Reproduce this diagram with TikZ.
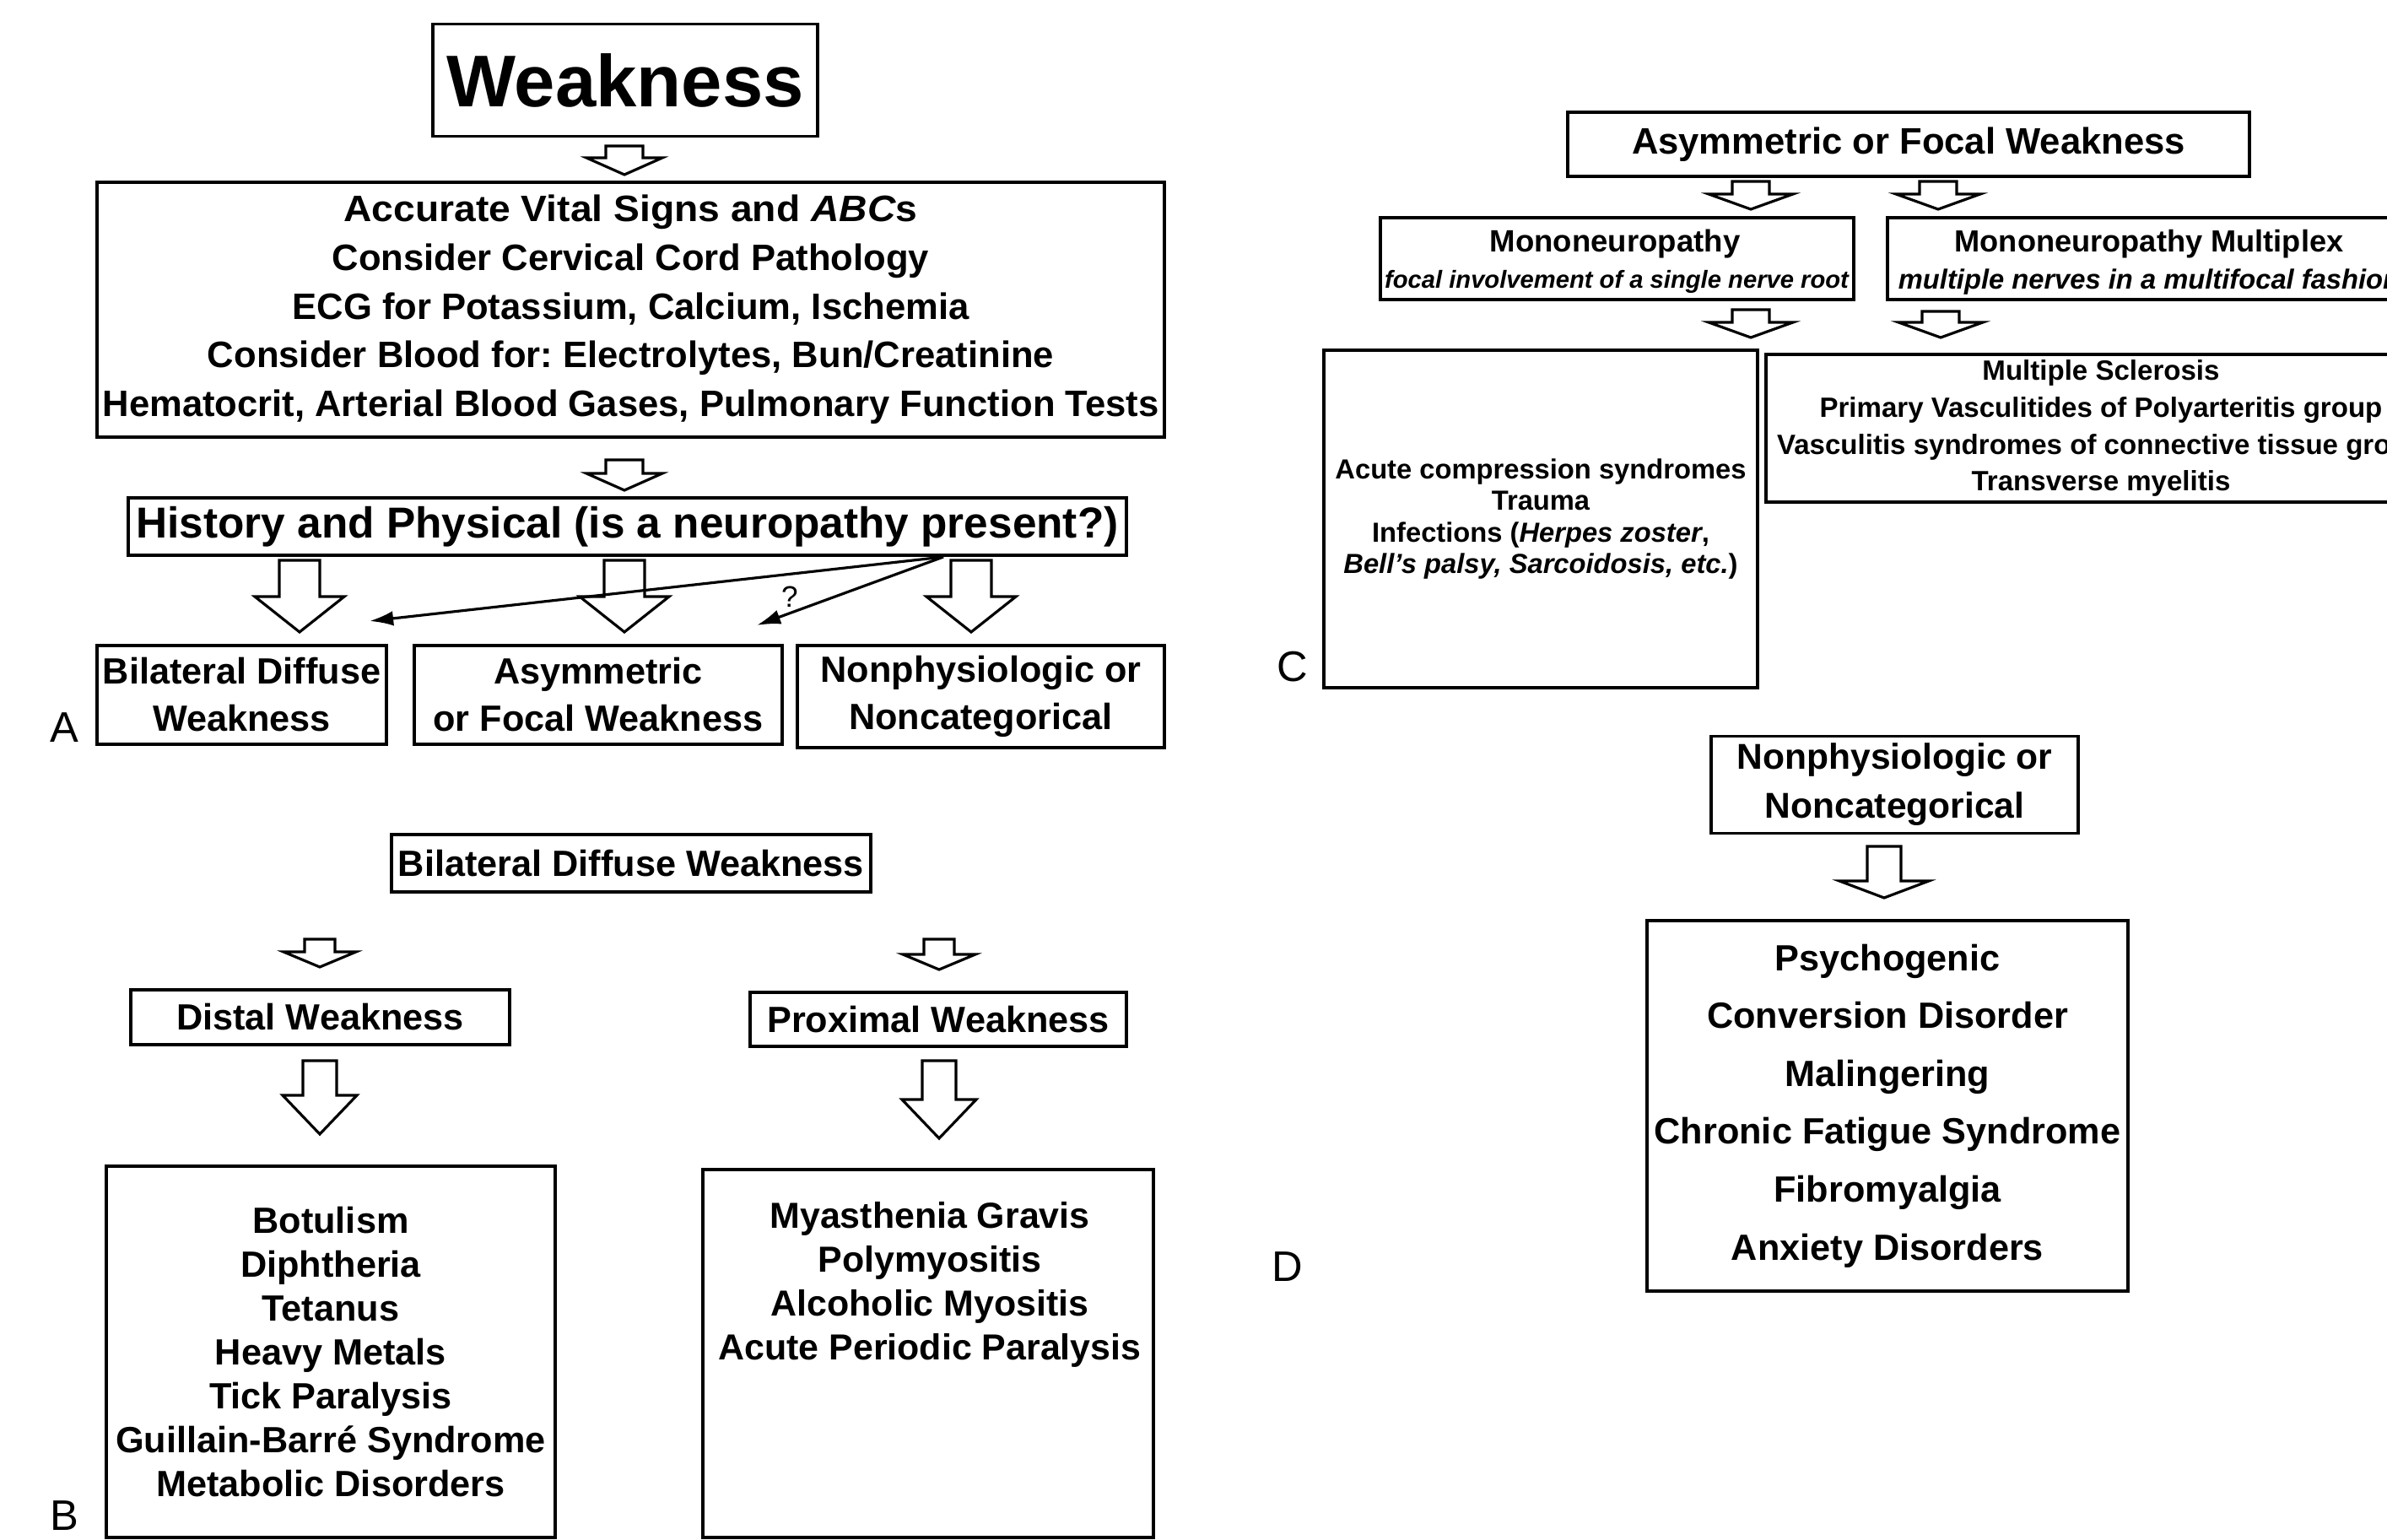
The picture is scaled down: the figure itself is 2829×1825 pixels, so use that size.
\documentclass[tikz,border=0pt]{standalone}
\usepackage{fontspec}
\setmainfont{Liberation Sans}
\usetikzlibrary{calc,arrows.meta}
\newcommand\fsz[2]{\fontsize{#1pt}{#2pt}\selectfont}
\newcommand\BArrow[5]{\draw[blk] ($(#1)+(-#3,0)$) -- ++({2*#3},0) -- ++(0,{#2-#5}) -- ++({#4-#3},0) -- ++({-#4},#5) -- ++({-#4},{-#5}) -- ++({#4-#3},0) -- cycle;}
\tikzset{
 box/.style={draw, line width=1.1pt, inner sep=0pt, align=center, font=\bfseries\fsz{12.3}{15.9}},
 txt/.style={inner sep=0pt, align=center, font=\bfseries\fsz{12.3}{15.9}},
 blk/.style={draw, line width=0.9pt, fill=white, line join=miter},
 panel/.style={inner sep=0pt, font=\fsz{14.4}{16}},
 diag/.style={line width=0.9pt, -{Latex[length=8pt,width=5pt]}},
}
\frenchspacing
\begin{document}
\begin{tikzpicture}[x=0.01cm,y=-0.01cm]
\useasboundingbox (0,0) rectangle (2829,1825);
\clip (0,0) rectangle (2829,1825);
\fill[white] (0,0) rectangle (2829,1825);

% ---------------- Panel A ----------------
\node[box, minimum width=4.55cm, minimum height=1.33cm, font=\bfseries\fsz{24.7}{30}] (weak) at (741,95) {Weakness};
\node[box, minimum width=12.65cm, minimum height=3.02cm, font=\bfseries\fsz{12.4}{16.4}] (init) at (747.5,367)
 {\scalebox{1.06}[1]{Accurate Vital Signs and \textit{ABC}s}\\ Consider Cervical Cord Pathology\\ ECG for Potassium, Calcium, Ischemia\\ Consider Blood for: Electrolytes, Bun/Creatinine\\ Hematocrit, Arterial Blood Gases, Pulmonary Function Tests};
\node[box, minimum width=11.83cm, minimum height=0.68cm, font=\bfseries\fsz{14.6}{17}] (hp) at (743.5,624) {History and Physical (is a neuropathy present?)};
\node[box, minimum width=3.43cm, minimum height=1.17cm] (bdwA) at (286.5,823.5) {Bilateral Diffuse\\Weakness};
\node[box, minimum width=4.36cm, minimum height=1.17cm] (afwA) at (709,823.5) {Asymmetric\\or Focal Weakness};
\node[box, minimum width=4.35cm, minimum height=1.21cm] (nncA) at (1162.5,825.5) {Nonphysiologic or\\Noncategorical};
\node[panel] (labA) at (76,862) {A};

\coordinate (aA1) at (740,173);
\coordinate (aA2) at (740,545);
\coordinate (aA3) at (355,664);
\coordinate (aA4) at (740,664);
\coordinate (aA5) at (1151,664);
\BArrow{aA1}{34}{22}{45}{20}
\BArrow{aA2}{36}{22}{45}{20}
\BArrow{aA3}{85}{24}{53}{42}
\BArrow{aA4}{85}{24}{53}{42}
\BArrow{aA5}{85}{24}{53}{42}

\coordinate (dstart) at (1118,660);
\coordinate (dend1) at (438,736);
\coordinate (dend2) at (897,741);
\draw[diag] (dstart) -- (dend1);
\draw[diag] (dstart) -- (dend2);
\node[inner sep=0pt, font=\fsz{10}{12}] (qm) at (936,707) {?};

% ---------------- Panel B ----------------
\node[box, minimum width=5.68cm, minimum height=0.68cm] (bdwB) at (748,1023) {Bilateral Diffuse Weakness};
\node[box, minimum width=4.49cm, minimum height=0.65cm] (dist) at (379.5,1205.5) {Distal Weakness};
\node[box, minimum width=4.46cm, minimum height=0.64cm] (prox) at (1112,1208) {Proximal Weakness};
\node[box, minimum width=5.32cm, minimum height=4.40cm, font=\bfseries\fsz{12.3}{14.75}] (distL) at (392,1602)
 {Botulism\\Diphtheria\\Tetanus\\Heavy Metals\\Tick Paralysis\\Guillain-Barré Syndrome\\Metabolic Disorders};
\node[box, minimum width=5.34cm, minimum height=4.36cm] (proxL) at (1100,1604) {};
\node[txt, font=\bfseries\fsz{12.2}{14.75}] (proxT) at (1102,1522.5)
 {Myasthenia Gravis\\Polymyositis\\Alcoholic Myositis\\Acute Periodic Paralysis};
\node[panel] (labB) at (76,1796) {B};

\coordinate (aB1) at (379,1113);
\coordinate (aB2) at (1113,1113);
\coordinate (aB3) at (379,1257);
\coordinate (aB4) at (1113,1257);
\BArrow{aB1}{33}{18}{43}{18}
\BArrow{aB2}{36}{18}{43}{18}
\BArrow{aB3}{87}{20}{44}{46}
\BArrow{aB4}{92}{20}{44}{46}

% ---------------- Panel C ----------------
\node[box, minimum width=8.08cm, minimum height=0.76cm, font=\bfseries\fsz{12.4}{15}] (afwC) at (2262,171) {Asymmetric or Focal Weakness};
\node[box, minimum width=5.61cm, minimum height=0.97cm] (mono) at (1916.5,306.5) {};
\node[txt, font=\bfseries\fsz{10.4}{12}] (monoT) at (1914,289) {Mononeuropathy};
\node[txt, font=\bfseries\itshape\fsz{8.3}{10}] (monoS) at (1916,334) {focal involvement of a single nerve root};
\node[box, minimum width=6.20cm, minimum height=0.97cm] (multi) at (2547,306.5) {};
\node[txt, font=\bfseries\fsz{10.3}{12}] (multiT) at (2547,289) {Mononeuropathy Multiplex};
\node[txt, font=\bfseries\itshape\fsz{9.3}{11}] (multiS) at (2547,334) {multiple nerves in a multifocal fashion};
\node[box, minimum width=5.14cm, minimum height=4.00cm, font=\bfseries\fsz{9.3}{10.6}] (monoL) at (1826,615)
 {Acute compression syndromes\\Trauma\\Infections (\textit{Herpes zoster},\\\textit{Bell's palsy, Sarcoidosis, etc.})};
\node[box, minimum width=7.94cm, minimum height=1.75cm, font=\bfseries\fsz{9.4}{12.5}] (multiL) at (2490,507.5)
 {Multiple Sclerosis\\Primary Vasculitides of Polyarteritis group\\Vasculitis syndromes of connective tissue group\\Transverse myelitis};
\node[panel] (labC) at (1532,790) {C};

\coordinate (aC1) at (2075,215);
\coordinate (aC2) at (2297,215);
\coordinate (aC3) at (2075,367);
\coordinate (aC4) at (2300,369);
\BArrow{aC1}{33}{22}{50}{18}
\BArrow{aC2}{33}{22}{50}{18}
\BArrow{aC3}{33}{22}{50}{18}
\BArrow{aC4}{31}{22}{50}{18}

% ---------------- Panel D ----------------
\node[box, minimum width=4.35cm, minimum height=1.15cm, font=\bfseries\fsz{12.1}{16.5}] (nncD) at (2245.5,930) {Nonphysiologic or\\Noncategorical};
\node[box, minimum width=5.70cm, minimum height=4.39cm, font=\bfseries\fsz{12.3}{19.5}] (nncL) at (2237,1310.5)
 {Psychogenic\\Conversion Disorder\\Malingering\\Chronic Fatigue Syndrome\\Fibromyalgia\\Anxiety Disorders};
\node[panel] (labD) at (1526,1501) {D};
\coordinate (aD1) at (2233,1003);
\BArrow{aD1}{61}{20}{53}{20}
\end{tikzpicture}
\end{document}
